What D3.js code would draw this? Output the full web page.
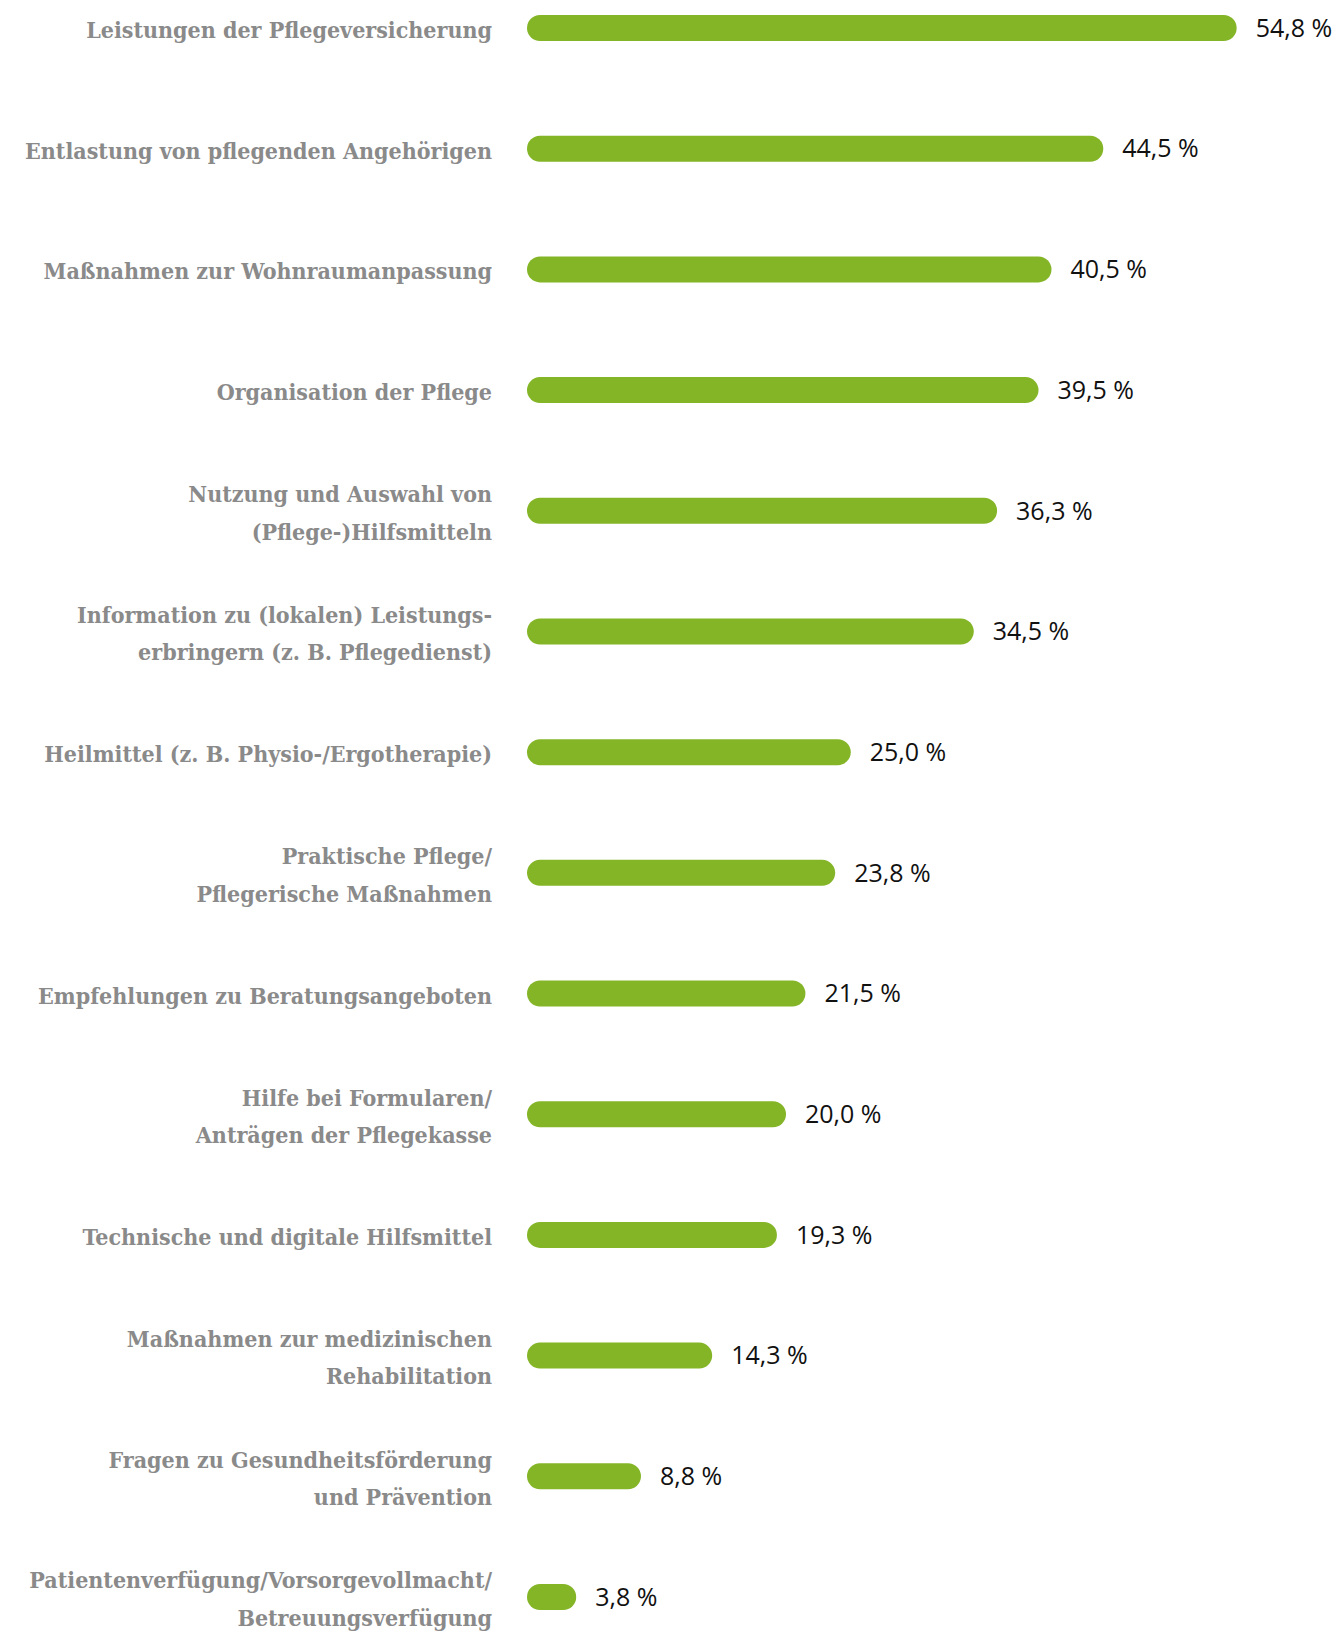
<!DOCTYPE html>
<html>
<head>
  <meta charset="UTF-8">
  <title>Beratungsthemen</title>
  <style>
    body {
      margin: 0;
      padding: 0;
      background: #fff;
    }
    svg {
      display: block;
    }
    .label {
      font-family: "DejaVu Serif Condensed", "DejaVu Serif", serif;
      font-weight: bold;
      font-size: 23px;
      fill: #8a8a8a;
    }
    .value {
      font-family: "Open Sans", sans-serif;
      font-size: 25px;
      fill: #111;
    }
  </style>
</head>
<body>
  <svg></svg>

  <script src="https://d3js.org/d3.v7.min.js"></script>
  <script>
    // categories, top to bottom ("\n" = line break)
    let categories = [
      "Leistungen der Pflegeversicherung",
      "Entlastung von pflegenden Angehörigen",
      "Maßnahmen zur Wohnraumanpassung",
      "Organisation der Pflege",
      "Nutzung und Auswahl von\n(Pflege-)Hilfsmitteln",
      "Information zu (lokalen) Leistungs-\nerbringern (z. B. Pflegedienst)",
      "Heilmittel (z. B. Physio-/Ergotherapie)",
      "Praktische Pflege/\nPflegerische Maßnahmen",
      "Empfehlungen zu Beratungsangeboten",
      "Hilfe bei Formularen/\nAnträgen der Pflegekasse",
      "Technische und digitale Hilfsmittel",
      "Maßnahmen zur medizinischen\nRehabilitation",
      "Fragen zu Gesundheitsförderung\nund Prävention",
      "Patientenverfügung/Vorsorgevollmacht/\nBetreuungsverfügung"
    ];

    let values = [54.8, 44.5, 40.5, 39.5, 36.3, 34.5, 25.0, 23.8, 21.5, 20.0, 19.3, 14.3, 8.8, 3.8];

    let width = 1337, height = 1631;
    let barH = 26;

    let svg = d3.select("svg")
        .attr("width", width)
        .attr("height", height);

    let de = d3.formatLocale({decimal: ",", thousands: ".", grouping: [3], currency: ["", " €"]});
    let fmt = de.format(".1f");

    let x = d3.scaleLinear()
        .domain([0, 55])
        .range([527, 527 + 55 * 12.95]);

    let y = d3.scalePoint()
        .domain(categories)
        .range([28, 1597]);

    let rows = svg.append("g")
        .selectAll("g")
        .data(categories.map((c, i) => ({cat: c, val: values[i]})))
        .enter()
        .append("g")
        .attr("transform", d => "translate(0," + y(d.cat) + ")");

    rows.append("rect")
        .attr("x", x(0))
        .attr("y", -barH / 2)
        .attr("width", d => x(d.val) - x(0))
        .attr("height", barH)
        .attr("rx", barH / 2)
        .attr("fill", "#84b527");

    rows.append("text")
        .attr("class", "value")
        .attr("x", d => x(d.val) + 19)
        .attr("dy", "0.35em")
        .text(d => fmt(d.val) + " %");

    let labels = rows.append("text")
        .attr("class", "label")
        .attr("x", 492)
        .attr("text-anchor", "end");

    labels.selectAll("tspan")
        .data(d => {
          let lines = d.cat.split("\n");
          return lines.map((l, i) => ({line: l, off: (i - (lines.length - 1) / 2) * 37.5}));
        })
        .enter()
        .append("tspan")
        .attr("x", 492)
        .attr("y", d => d.off + 2)
        .attr("dy", "0.35em")
        .text(d => d.line);
  </script>
</body>
</html>
